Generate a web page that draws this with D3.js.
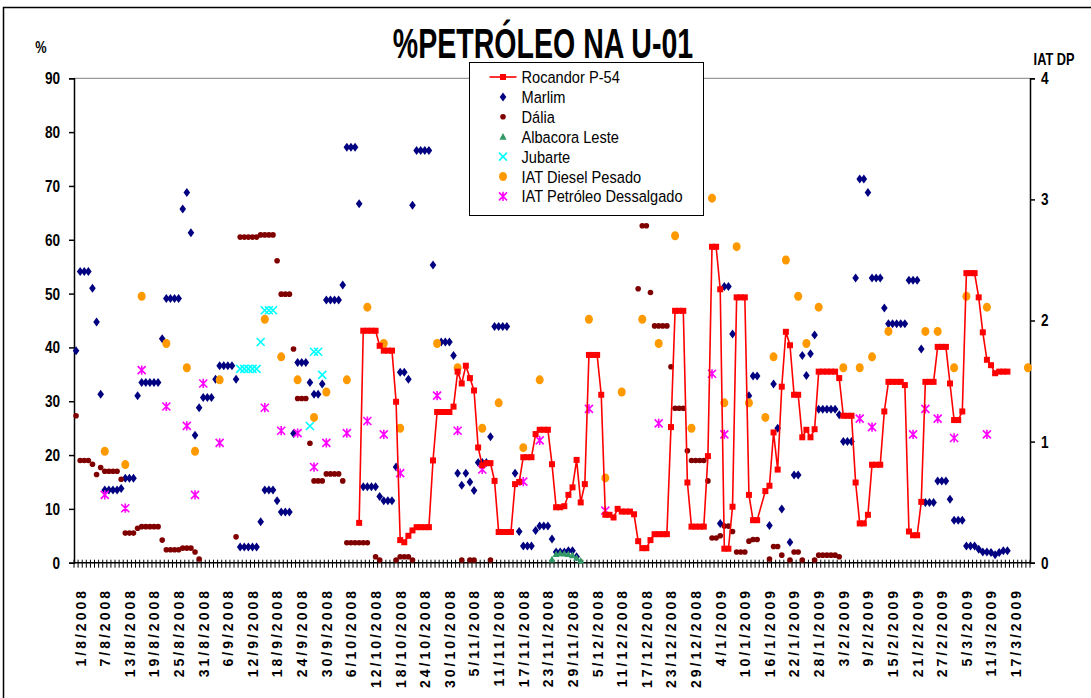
<!DOCTYPE html>
<html>
<head>
<meta charset="utf-8">
<script src="https://cdnjs.cloudflare.com/ajax/libs/d3/7.8.5/d3.min.js"></script>
<style>
  body { margin: 0; background: #fff; }
  svg { display: block; }
  text { font-family: "Liberation Sans Narrow", "Arial Narrow", "Liberation Sans", Arial, sans-serif; }
</style>
</head>
<body>
<div id="chart"></div>
<script>
// categories: one per day, 1/8/2008 .. 21/3/2009
var startDate = new Date(2008, 7, 1);
var dayCount = 233;
var days = d3.range(dayCount);
var dayLabels = days.map(function(i) {
  var d = d3.timeDay.offset(startDate, i);
  return d.getDate() + "/" + (d.getMonth() + 1) + "/" + d.getFullYear();
});
var labelEvery = 6;
var leftTicks = d3.range(0, 91, 10);
var rightTicks = [0, 1, 2, 3, 4];

// series values as [day index, value]
var rocandor = [[69,7.4],[70,43.1],[71,43.1],[72,43.1],[73,43.1],[74,40.3],[75,39.4],[76,39.4],[77,39.4],[78,29.9],
  [79,4.2],[80,3.8],[81,5.0],[82,6.0],[83,6.6],[84,6.6],[85,6.6],[86,6.6],[87,19.0],[88,28.0],[89,28.0],[90,28.0],[91,28.0],
  [92,29.0],[93,35.5],[94,33.3],[95,36.6],[96,34.3],[97,32.0],[98,21.4],[99,18.1],[100,18.5],[101,18.5],[102,15.2],
  [103,5.7],[104,5.7],[105,5.7],[106,5.7],[107,14.6],[108,15.0],[109,19.6],[110,19.6],[111,19.6],[112,23.9],[113,24.7],
  [114,24.7],[115,24.7],[116,18.3],[117,10.3],[118,10.3],[119,10.5],[120,12.6],[121,14.0],[122,19.1],[123,11.2],[124,14.6],
  [125,38.6],[126,38.6],[127,38.6],[128,31.2],[129,8.9],[130,8.9],[131,8.4],[132,10.0],[133,9.5],[134,9.5],[135,9.5],
  [136,9.0],[137,4.0],[138,2.7],[139,2.7],[140,4.2],[141,5.3],[142,5.3],[143,5.3],[144,5.3],[145,25.2],[146,46.8],
  [147,46.8],[148,46.8],[149,14.9],[150,6.7],[151,6.7],[152,6.7],[153,6.7],[154,19.8],[155,58.7],[156,58.7],[157,50.8],
  [158,2.6],[159,2.6],[160,10.4],[161,49.3],[162,49.3],[163,49.3],[164,12.6],[165,7.9],[166,7.9],[168,13.3],[169,14.3],
  [170,24.2],[171,17.3],[172,32.7],[173,42.9],[174,40.4],[175,31.2],[176,31.2],[177,23.3],[178,24.7],[179,23.3],[180,24.8],
  [181,35.5],[182,35.5],[183,35.5],[184,35.5],[185,35.5],[186,34.3],[187,27.3],[188,27.3],[189,27.3],[190,14.9],[191,7.3],
  [192,7.3],[193,8.9],[194,18.2],[195,18.2],[196,18.2],[197,28.1],[198,33.6],[199,33.6],[200,33.6],[201,33.6],[202,33.0],
  [203,5.8],[204,5.1],[205,5.1],[206,11.3],[207,33.6],[208,33.6],[209,33.6],[210,40.1],[211,40.1],[212,40.1],[213,33.3],
  [214,26.5],[215,26.5],[216,28.1],[217,53.8],[218,53.8],[219,53.8],[220,49.3],[221,42.8],[222,37.7],[223,36.7],[224,35.2],
  [225,35.5],[226,35.5],[227,35.5]];

var marlim = [[0,39.4],[1,54.1],[2,54.1],[3,54.1],[4,51.0],[5,44.7],[6,31.3],[7,13.5],[8,13.5],[9,13.5],[10,13.5],[11,13.8],
  [12,15.7],[13,15.7],[14,15.7],[15,31.0],[16,33.5],[17,33.5],[18,33.5],[19,33.5],[20,33.5],[21,41.6],[22,49.1],[23,49.1],
  [24,49.1],[25,49.1],[26,65.7],[27,68.8],[28,61.3],[29,23.7],[30,28.8],[31,30.7],[32,30.7],[33,30.7],[34,34.1],[35,36.6],
  [36,36.6],[37,36.6],[38,36.6],[39,34.1],[40,2.9],[41,2.9],[42,2.9],[43,2.9],[44,2.9],[45,7.6],[46,13.5],[47,13.5],[48,13.5],
  [49,11.5],[50,9.4],[51,9.4],[52,9.4],[53,24.0],[54,37.2],[55,37.2],[56,37.2],[57,33.5],[58,31.3],[59,31.3],[60,33.2],
  [61,48.8],[62,48.8],[63,48.8],[64,48.8],[65,51.6],[66,77.2],[67,77.2],[68,77.2],[69,66.7],[70,14.1],[71,14.1],[72,14.1],
  [73,14.1],[74,12.3],[75,11.5],[76,11.5],[77,11.5],[78,17.8],[79,35.4],[80,35.4],[81,34.1],[82,66.4],[83,76.6],[84,76.6],
  [85,76.6],[86,76.6],[87,55.3],[89,41.0],[90,41.0],[91,41.0],[92,38.5],[93,16.6],[94,14.4],[95,16.6],[96,15.0],[97,13.4],
  [98,18.6],[99,18.6],[100,18.6],[101,23.4],[102,43.9],[103,43.9],[104,43.9],[105,43.9],[107,16.6],[108,5.8],[109,3.1],
  [110,3.1],[111,3.1],[112,6.0],[113,6.8],[114,6.8],[115,6.8],[116,4.4],[117,2.0],[118,2.0],[119,2.0],[120,2.2],[121,2.2],
  [122,1.1],[157,7.3],[158,51.3],[159,51.3],[160,42.5],[164,31.0],[165,34.7],[166,34.7],[169,6.9],[170,33.2],[171,25.0],
  [172,10.0],[174,3.8],[175,16.3],[176,16.3],[177,38.5],[178,34.8],[179,38.8],[180,42.3],[181,28.5],[182,28.5],[183,28.5],
  [184,28.5],[185,28.5],[186,27.5],[187,22.5],[188,22.5],[189,22.5],[190,52.9],[191,71.3],[192,71.3],[193,68.8],[194,52.9],
  [195,52.9],[196,52.9],[197,47.3],[198,44.4],[199,44.4],[200,44.4],[201,44.4],[202,44.4],[203,52.5],[204,52.5],[205,52.5],
  [206,39.7],[207,11.2],[208,11.2],[209,11.2],[210,15.2],[211,15.2],[212,15.2],[213,11.8],[214,7.9],[215,7.9],[216,7.9],
  [217,3.1],[218,3.1],[219,3.1],[220,2.5],[221,2.0],[222,2.0],[223,1.9],[224,1.5],[225,1.9],[226,2.2],[227,2.2]];

var dalia = [[0,27.3],[1,19.0],[2,19.0],[3,19.0],[4,18.3],[5,16.4],[6,17.7],[7,17.0],[8,17.0],[9,17.0],[10,17.0],[11,15.5],
  [12,5.5],[13,5.5],[14,5.5],[15,6.4],[16,6.7],[17,6.7],[18,6.7],[19,6.7],[20,6.7],[21,4.2],[22,2.4],[23,2.4],[24,2.4],
  [25,2.4],[26,2.7],[27,2.7],[28,2.7],[29,2.0],[30,0.7],[39,4.8],[40,60.5],[41,60.5],[42,60.5],[43,60.5],[44,60.5],[45,60.9],
  [46,60.9],[47,60.9],[48,60.9],[49,56.1],[50,49.9],[51,49.9],[52,49.9],[53,39.7],[54,30.5],[55,30.5],[56,30.5],[57,22.2],
  [58,15.2],[59,15.2],[60,15.2],[61,16.5],[62,16.5],[63,16.5],[64,16.5],[65,15.2],[66,3.7],[67,3.7],[68,3.7],[69,3.7],
  [70,3.7],[71,3.7],[73,1.1],[74,0.5],[78,0.5],[79,1.1],[80,1.1],[81,1.1],[82,0.5],[94,0.5],[96,0.5],[97,0.5],[101,0.5],
  [137,50.9],[138,62.6],[139,62.6],[140,50.2],[141,44.0],[142,44.0],[143,44.0],[144,44.0],[145,36.4],[146,28.7],[147,28.7],
  [148,28.7],[149,20.8],[150,19.0],[151,19.0],[152,19.0],[153,19.0],[154,15.2],[155,4.6],[156,4.6],[157,5.0],[158,6.8],
  [159,6.8],[160,5.8],[161,2.0],[162,2.0],[163,2.0],[164,4.0],[165,4.3],[166,4.3],[169,0.7],[170,3.0],[171,3.0],[172,1.4],
  [174,0.5],[175,2.0],[176,2.0],[177,0.5],[180,0.5],[181,1.4],[182,1.4],[183,1.4],[184,1.4],[185,1.4],[186,1.1]];

var albacora = [[116,0.6],[117,1.6],[118,1.8],[119,1.7],[120,1.6],[121,1.4],[122,0.9],[123,0.4]];

var jubarte = [[40,36.0],[41,36.0],[42,36.0],[43,36.0],[44,36.0],[45,41.0],[46,46.9],[47,46.9],[48,46.9],
  [57,25.4],[58,39.2],[59,39.2],[60,34.9]];

// right axis (IAT DP)
var iatDiesel = [[7,0.92],[12,0.81],[16,2.20],[22,1.81],[27,1.61],[29,0.92],[35,1.51],[46,2.01],[50,1.70],[54,1.51],
  [58,1.20],[61,1.41],[66,1.51],[71,2.11],[75,1.81],[79,1.11],[88,1.81],[93,1.61],[99,1.11],[103,1.32],[109,0.95],
  [113,1.51],[125,2.01],[129,0.70],[133,1.41],[138,2.01],[142,1.81],[146,2.70],[150,1.11],[155,3.01],[158,1.32],
  [161,2.61],[164,1.32],[168,1.20],[170,1.70],[173,2.50],[176,2.20],[178,1.81],[181,2.11],[187,1.61],[191,1.61],
  [194,1.70],[198,1.91],[207,1.91],[210,1.91],[214,1.61],[217,2.20],[222,2.11],[232,1.61]];

var iatDessalgado = [[7,0.56],[12,0.45],[16,1.59],[22,1.29],[27,1.13],[29,0.56],[31,1.48],[35,0.99],[46,1.28],[50,1.09],
  [54,1.07],[58,0.79],[61,0.99],[66,1.07],[71,1.17],[75,1.06],[79,0.74],[88,1.38],[93,1.09],[99,0.77],[109,0.67],
  [113,1.01],[125,1.27],[129,0.43],[142,1.15],[155,1.56],[158,1.06],[191,1.19],[194,1.12],[204,1.06],[207,1.27],
  [210,1.19],[214,1.03],[222,1.06]];

var width = 1091, height = 698;
var svg = d3.select("#chart").append("svg")
  .attr("width", width).attr("height", height);

// outer frame
svg.append("rect").attr("x", 3.5).attr("y", 7.5).attr("width", 1200).attr("height", 800)
  .attr("fill", "none").attr("stroke", "#000").attr("stroke-width", 1.5);

var x = d3.scaleBand().domain(days).range([74, 1030]);
var y = d3.scaleLinear().domain([0, 90]).range([562.7, 78.3]);
var yR = d3.scaleLinear().domain([0, 4]).range([562.7, 78.3]);
var cx = function(d) { return x(d[0]) + x.bandwidth() / 2; };

// condensed bold text (no narrow font available, so squeeze horizontally)
function narrowText(px, py, size, sx, anchor, str) {
  return svg.append("text")
    .attr("transform", "translate(" + px + "," + py + ") scale(" + sx + ",1)")
    .attr("text-anchor", anchor).attr("font-size", size).attr("font-weight", "bold").text(str);
}
narrowText(543, 58, 42, 0.68, "middle", "%PETRÓLEO NA U-01");
narrowText(41, 53, 17, 0.75, "middle", "%");
narrowText(1054, 65, 17, 0.75, "middle", "IAT DP");

// plot top border
svg.append("line").attr("x1", 74).attr("x2", 1030).attr("y1", y(90)).attr("y2", y(90))
  .attr("stroke", "#808080").attr("stroke-width", 1);

// left axis
var gL = svg.append("g").attr("transform", "translate(74,0)")
  .call(d3.axisLeft(y).tickValues(leftTicks).tickSize(5).tickPadding(9));
// right axis
var gR = svg.append("g").attr("transform", "translate(1030,0)")
  .call(d3.axisRight(yR).tickValues(rightTicks).tickSize(5).tickPadding(6).tickFormat(d3.format("d")));
[gL, gR].forEach(function(g) {
  g.select(".domain").attr("stroke", "#000").attr("stroke-width", 1.5);
  g.selectAll(".tick line").attr("stroke", "#000").attr("stroke-width", 1.5);
  g.selectAll(".tick text").attr("font-size", 17).attr("font-weight", "bold").attr("fill", "#000")
    .style("font-family", "'Liberation Sans Narrow','Arial Narrow','Liberation Sans',sans-serif");
});
gL.selectAll(".tick text").attr("transform", "scale(0.8,1)").attr("x", -14 / 0.8);
gR.selectAll(".tick text").attr("transform", "scale(0.8,1)").attr("x", 11 / 0.8);

// x axis: day ticks crossing the axis
var gX = svg.append("g");
gX.selectAll("line.tk").data(days.concat([dayCount])).enter().append("line")
  .attr("x1", function(d) { return d < dayCount ? x(d) : x.range()[1]; })
  .attr("x2", function(d) { return d < dayCount ? x(d) : x.range()[1]; })
  .attr("y1", y(0) - 3).attr("y2", y(0) + 5)
  .attr("stroke", "#000").attr("stroke-width", 1);
gX.append("line").attr("x1", 74).attr("x2", 1030).attr("y1", y(0)).attr("y2", y(0))
  .attr("stroke", "#000").attr("stroke-width", 1.5);
gX.selectAll("text").data(days.filter(function(d) { return d % labelEvery === 0; })).enter().append("text")
  .attr("transform", function(d) {
    return "translate(" + (x(d) + x.bandwidth() / 2 + 9.5) + ",588) rotate(-90)";
  })
  .attr("text-anchor", "end").attr("font-size", 14).attr("font-weight", "bold")
  .attr("letter-spacing", "3px")
  .text(function(d) { return dayLabels[d]; });

// marker drawing
var shapes = {
  square: "M-3,-3h6v6h-6z",
  diamond: "M0,-4.5L3.3,0L0,4.5L-3.3,0Z",
  triangle: "M0,-3.6L3.6,3L-3.6,3Z",
  cross: "M-4,-4L4,4M-4,4L4,-4",
  star: "M-4,-4L4,4M-4,4L4,-4M0,-4.6V4.6"
};
function drawMarker(g, type, color) {
  if (type === "dot") {
    g.append("circle").attr("r", 2.8).attr("fill", color);
  } else if (type === "bigdot") {
    g.append("ellipse").attr("rx", 4).attr("ry", 4.5).attr("fill", color);
  } else if (type === "cross" || type === "star") {
    g.append("path").attr("d", shapes[type]).attr("fill", "none")
      .attr("stroke", color).attr("stroke-width", 1.6);
  } else {
    g.append("path").attr("d", shapes[type]).attr("fill", color);
  }
}

var series = [
  { name: "Rocandor P-54", data: rocandor, scale: y, type: "square", color: "#FF0000", line: true },
  { name: "Marlim", data: marlim, scale: y, type: "diamond", color: "#000080" },
  { name: "Dália", data: dalia, scale: y, type: "dot", color: "#800000" },
  { name: "Albacora Leste", data: albacora, scale: y, type: "triangle", color: "#339966" },
  { name: "Jubarte", data: jubarte, scale: y, type: "cross", color: "#00FFFF" },
  { name: "IAT Diesel Pesado", data: iatDiesel, scale: yR, type: "bigdot", color: "#FF9900" },
  { name: "IAT Petróleo Dessalgado", data: iatDessalgado, scale: yR, type: "star", color: "#FF00FF" }
];

var drawOrder = [1, 2, 3, 4, 5, 6, 0];
drawOrder.forEach(function(k) {
  var s = series[k];
  var g = svg.append("g");
  if (s.line) {
    g.append("path").datum(s.data)
      .attr("d", d3.line().x(cx).y(function(d) { return s.scale(d[1]); }))
      .attr("fill", "none").attr("stroke", s.color).attr("stroke-width", 1.6);
  }
  g.selectAll("g").data(s.data).enter().append("g")
    .attr("transform", function(d) { return "translate(" + cx(d) + "," + s.scale(d[1]) + ")"; })
    .each(function() { drawMarker(d3.select(this), s.type, s.color); });
});

// legend
var lg = svg.append("g").attr("transform", "translate(469.5,62.5)");
lg.append("rect").attr("width", 234).attr("height", 153).attr("fill", "#fff")
  .attr("stroke", "#000").attr("stroke-width", 1);
series.forEach(function(s, i) {
  var row = lg.append("g").attr("transform", "translate(0," + (14.5 + i * 19.9) + ")");
  if (s.line) {
    row.append("line").attr("x1", 20).attr("x2", 47).attr("stroke", s.color).attr("stroke-width", 1.6);
  }
  var m = row.append("g").attr("transform", "translate(33.5,0)");
  drawMarker(m, s.type, s.color);
  row.append("text").attr("transform", "translate(52,6) scale(0.86,1)")
    .attr("font-size", 17).text(s.name);
});
</script>
</body>
</html>
